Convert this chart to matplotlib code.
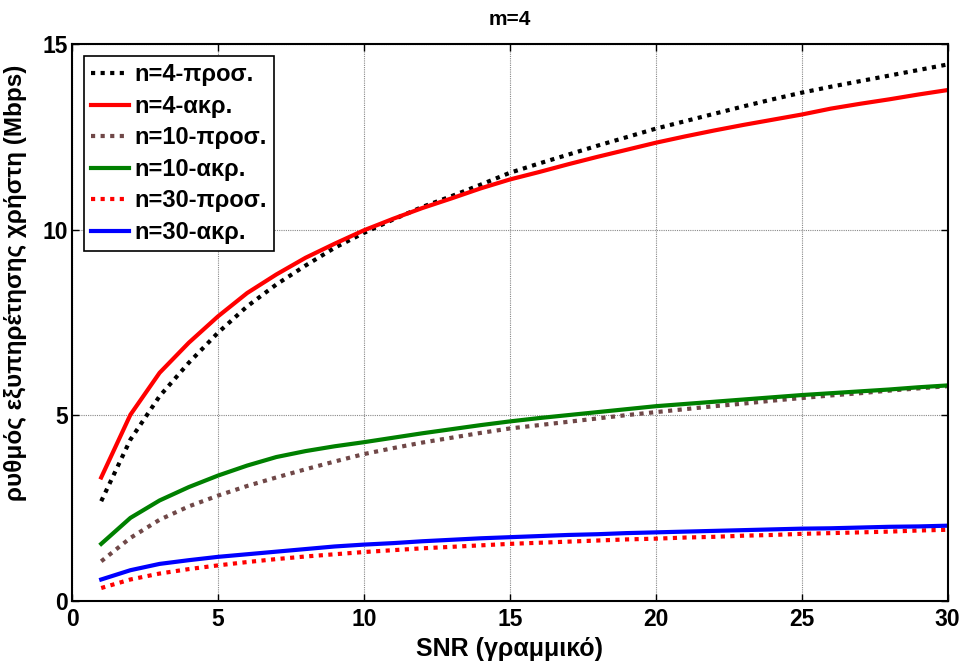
import matplotlib.pyplot as plt

plt.rcParams['font.family'] = ['Liberation Sans', 'DejaVu Sans']
plt.rcParams['font.weight'] = 'bold'

# SNR (linear) and user service rate (Mbps) for each case
snr = list(range(1, 31))

n4_approx = [2.69, 4.35, 5.52, 6.42, 7.23, 7.94, 8.53, 9.04, 9.52, 9.92,
             10.28, 10.62, 10.91, 11.22, 11.54, 11.79, 12.03, 12.27, 12.50, 12.73,
             12.93, 13.13, 13.33, 13.52, 13.70, 13.86, 14.01, 14.16, 14.31, 14.46]
n4_exact = [3.33, 5.02, 6.15, 6.96, 7.67, 8.30, 8.80, 9.25, 9.63, 9.99,
            10.30, 10.59, 10.85, 11.12, 11.36, 11.56, 11.77, 11.97, 12.16, 12.35,
            12.52, 12.68, 12.83, 12.97, 13.11, 13.27, 13.40, 13.52, 13.65, 13.77]
n10_approx = [1.07, 1.70, 2.19, 2.55, 2.84, 3.10, 3.33, 3.55, 3.76, 3.96,
              4.12, 4.27, 4.40, 4.53, 4.65, 4.74, 4.83, 4.92, 5.01, 5.09,
              5.17, 5.25, 5.32, 5.40, 5.47, 5.54, 5.60, 5.67, 5.73, 5.79]
n10_exact = [1.54, 2.24, 2.71, 3.07, 3.38, 3.65, 3.88, 4.04, 4.17, 4.28,
             4.40, 4.52, 4.63, 4.74, 4.84, 4.93, 5.01, 5.09, 5.17, 5.25,
             5.31, 5.37, 5.43, 5.49, 5.55, 5.60, 5.65, 5.70, 5.76, 5.81]
n30_approx = [0.35, 0.58, 0.74, 0.86, 0.96, 1.05, 1.13, 1.20, 1.26, 1.32,
              1.37, 1.42, 1.46, 1.50, 1.54, 1.57, 1.60, 1.63, 1.66, 1.68,
              1.71, 1.73, 1.76, 1.78, 1.81, 1.83, 1.85, 1.87, 1.90, 1.92]
n30_exact = [0.58, 0.83, 1.00, 1.10, 1.19, 1.26, 1.33, 1.40, 1.47, 1.52,
             1.56, 1.61, 1.65, 1.69, 1.72, 1.75, 1.78, 1.80, 1.83, 1.85,
             1.87, 1.89, 1.91, 1.93, 1.95, 1.96, 1.98, 2.00, 2.01, 2.03]

fig = plt.figure(figsize=(9.63, 6.63), dpi=100)
ax = fig.add_axes([0.0748, 0.0935, 0.9092, 0.8395])

dots = (0, (1, 1.3))
ax.plot(snr, n4_approx, color='black', lw=3, linestyle=dots, dash_capstyle='butt', label='n=4-προσ.')
ax.plot(snr, n4_exact, color='#ff0000', lw=3, label='n=4-ακρ.')
ax.plot(snr, n10_approx, color='#704848', lw=3, linestyle=dots, dash_capstyle='butt', label='n=10-προσ.')
ax.plot(snr, n10_exact, color='#008000', lw=3, label='n=10-ακρ.')
ax.plot(snr, n30_approx, color='#ff0000', lw=3, linestyle=dots, dash_capstyle='butt', label='n=30-προσ.')
ax.plot(snr, n30_exact, color='#0000ff', lw=3, label='n=30-ακρ.')

ax.set_xlim(0, 30)
ax.set_ylim(0, 15)
ax.set_xticks([0, 5, 10, 15, 20, 25, 30])
ax.set_yticks([0, 5, 10, 15])
ax.grid(True, color='#888888', lw=0.8, linestyle=(0, (1, 1)))
ax.tick_params(direction='in', top=True, right=True, labelsize=16.5, length=5, width=1)
ax.tick_params(axis='x', pad=5)
ax.tick_params(axis='y', pad=3)
for s in ax.spines.values():
    s.set_linewidth(1.5)

ax.set_title('m=4', fontsize=15, fontweight='bold', pad=14)
ax.set_xlabel('SNR (γραμμικό)', fontsize=18, fontweight='bold')
ax.set_ylabel('ρυθμός εξυπηρέτησης χρήστη (Mbps)', fontsize=17.5, fontweight='bold')
ax.xaxis.set_label_coords(0.5, -0.065)
ax.yaxis.set_label_coords(-0.052, 0.572)

leg = ax.legend(loc='upper left', fontsize=17, frameon=True, fancybox=False, edgecolor='black',
                handlelength=1.6, handletextpad=0.25, labelspacing=0.36, borderpad=0.3,
                borderaxespad=0.5)
leg.get_frame().set_linewidth(1.2)
leg.get_frame().set_alpha(1)

fig.savefig('out.png', dpi=100)
